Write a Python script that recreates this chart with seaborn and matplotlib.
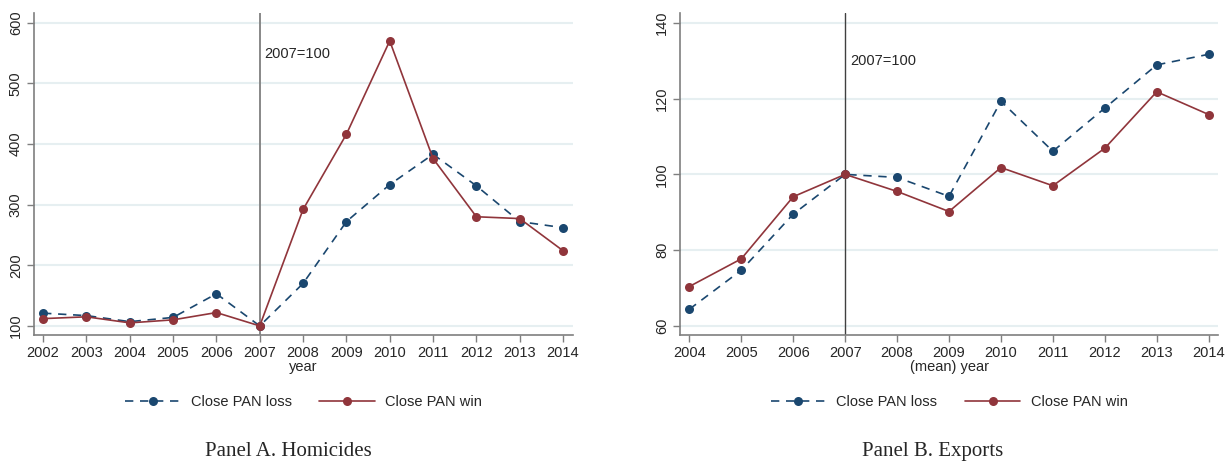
import numpy as np
import pandas as pd
import matplotlib
matplotlib.use('Agg')
import matplotlib.pyplot as plt
import seaborn as sns
from matplotlib.lines import Line2D

# Panel A: homicides (2007=100)
years_a = list(range(2002, 2015))
hom_loss = [121, 117, 107, 114, 153, 100, 170, 272, 333, 383, 331, 272, 262]
hom_win = [112, 115, 105, 110, 122, 100, 292, 416, 570, 376, 280, 277, 224]

# Panel B: exports (2007=100)
years_b = list(range(2004, 2015))
exp_loss = [64.4, 74.7, 89.5, 100, 99.2, 94.2, 119.3, 106.1, 117.5, 128.9, 131.7]
exp_win = [70.4, 77.7, 94.1, 100, 95.5, 90.2, 101.8, 97.0, 106.9, 121.8, 115.8]

groups = ['Close PAN loss', 'Close PAN win']
blue = '#1a476f'
red = '#90353b'

sns.set_style("white")
plt.rcParams['font.family'] = ['Liberation Sans', 'DejaVu Sans']

def long_df(years, loss, win):
    d1 = pd.DataFrame({'year': years, 'value': loss, 'group': groups[0]})
    d2 = pd.DataFrame({'year': years, 'value': win, 'group': groups[1]})
    return pd.concat([d1, d2], ignore_index=True)

df_a = long_df(years_a, hom_loss, hom_win)
df_b = long_df(years_b, exp_loss, exp_win)

fig = plt.figure(figsize=(12.26, 4.61), dpi=100)
ax_a = fig.add_axes([34/1226, 1-335/461, 539/1226, 322/461])
ax_b = fig.add_axes([680/1226, 1-335/461, 538/1226, 322/461])

def draw(ax, df, years, xlim, ylim, yticks, xlabel, note_y, vcol, vlw):
    for y in yticks:
        ax.axhline(y, color='#e6eff1', lw=1.5, zorder=0)
    ax.axvline(2007, color=vcol, lw=vlw, zorder=1)
    sns.lineplot(data=df, x='year', y='value', hue='group', style='group',
                 palette=[blue, red], dashes={groups[0]: (5, 4), groups[1]: ''},
                 markers={groups[0]: 'o', groups[1]: 'o'}, markersize=6.5,
                 markeredgewidth=0, linewidth=1.2, ax=ax, legend=False, zorder=3)
    ax.set_xlim(*xlim)
    ax.set_ylim(*ylim)
    ax.set_xticks(years)
    ax.set_xticklabels([str(y) for y in years], fontsize=10.5)
    ax.set_yticks(yticks)
    ax.set_yticklabels([str(v) for v in yticks], fontsize=10.5, rotation=90, va='center')
    ax.set_xlabel(xlabel, fontsize=10.5, labelpad=0)
    ax.set_ylabel('')
    for s in ['top', 'right']:
        ax.spines[s].set_visible(False)
    for s in ['left', 'bottom']:
        ax.spines[s].set_color('#7f7f7f')
        ax.spines[s].set_linewidth(1.2)
    ax.tick_params(axis='both', direction='out', length=5, width=1, color='#7f7f7f',
                   pad=3, left=True, bottom=True)
    ax.text(2007.1, note_y, '2007=100', fontsize=10.5, va='center', ha='left')
    handles = [Line2D([], [], color=blue, ls=(0, (5, 4)), lw=1.2, marker='o', ms=6.5, mew=0),
               Line2D([], [], color=red, ls='-', lw=1.2, marker='o', ms=6.5, mew=0)]
    ax.legend(handles, groups, loc='upper center', bbox_to_anchor=(0.5, -0.145), ncol=2,
              frameon=False, fontsize=10.5, handlelength=3.8, handletextpad=0.7,
              columnspacing=1.9)

draw(ax_a, df_a, years_a, (2001.79, 2014.23), (85, 616), [100, 200, 300, 400, 500, 600],
     'year', 548, '#888888', 1.4)
draw(ax_b, df_b, years_b, (2003.82, 2014.18), (57.6, 142.6), [60, 80, 100, 120, 140],
     '(mean) year', 129.8, '#404040', 1.0)

fig.text(288/1226, 1-451/461, 'Panel A. Homicides', family='Liberation Serif',
         fontsize=15, ha='center', va='center')
fig.text(933/1226, 1-451/461, 'Panel B. Exports', family='Liberation Serif',
         fontsize=15, ha='center', va='center')

fig.savefig('out.png', dpi=100, facecolor='white')
